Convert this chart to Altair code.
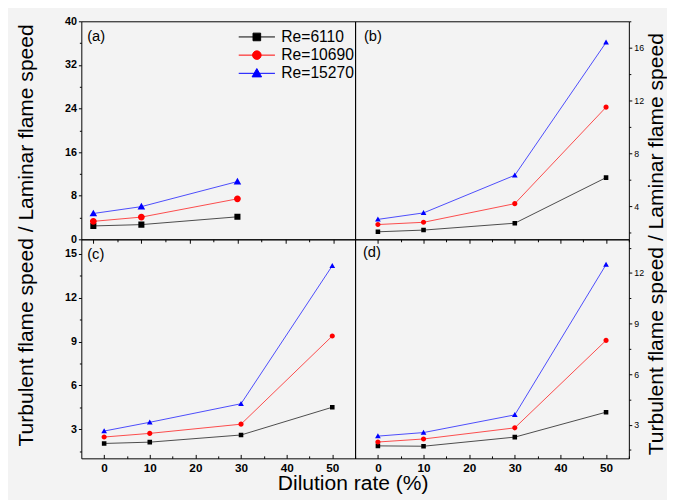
import altair as alt
import pandas as pd

FONT = "Liberation Sans"
SERIES = ["Re=6110", "Re=10690", "Re=15270"]
COLORS = ["#000000", "#ff0000", "#0000ff"]
# marker paths (a zero-area horizontal segment is only visible in the legend)
SHAPES = [
    "M-3.8,0H3.8M-0.8,-0.8H0.8V0.8H-0.8Z",
    "M-3.8,0H3.8M-0.9,0A0.9,0.9 0 1,0 0.9,0A0.9,0.9 0 1,0 -0.9,0Z",
    "M-3.8,0H3.8M0,-1L1,0.75L-1,0.75Z",
]

# ---- data ----
x_a = [0, 10, 30]
a_6110 = [2.46, 2.7, 4.13]
a_10690 = [3.3, 4.08, 7.43]
a_15270 = [4.74, 6.0, 10.6]

x_bcd = [0, 10, 30, 50]
b_6110 = [2.07, 2.2, 2.72, 6.17]
b_10690 = [2.62, 2.79, 4.2, 11.5]
b_15270 = [3.01, 3.5, 6.35, 16.4]

c_6110 = [2.02, 2.11, 2.6, 4.5]
c_10690 = [2.46, 2.71, 3.34, 9.38]
c_15270 = [2.87, 3.47, 4.74, 14.19]

d_6110 = [1.74, 1.72, 2.26, 3.74]
d_10690 = [1.97, 2.15, 2.81, 8.0]
d_15270 = [2.32, 2.53, 3.58, 12.5]

x_ticks_a = [0, 5, 10, 15, 20, 25, 30, 35, 40, 45, 50]
x_ticks = [0, 5, 10, 15, 20, 25, 30, 35, 40, 45, 50, 55]
x_labels = [0, 10, 20, 30, 40, 50]
y_ticks_a = [0, 4, 8, 12, 16, 20, 24, 28, 32, 36, 40]
y_ticks_b = [2, 4, 6, 8, 10, 12, 14, 16, 18]
y_ticks_c = [1.5, 3, 4.5, 6, 7.5, 9, 10.5, 12, 13.5, 15]
y_ticks_d = [1.5, 3, 4.5, 6, 7.5, 9, 10.5, 12, 13.5]

Y_TITLE = "Turbulent flame speed / Laminar flame speed"
X_TITLE = "Dilution rate (%)"


def long_df(xs, ys_list):
    rows = []
    for name, ys in zip(SERIES, ys_list):
        for x, y in zip(xs, ys):
            rows.append({"x": x, "y": y, "series": name})
    return pd.DataFrame(rows)


def tick_size(test, major, minor):
    return {"condition": {"test": test, "value": major}, "value": minor}


stroke_scale = alt.Scale(domain=SERIES, range=COLORS)
fill_scale = alt.Scale(domain=SERIES, range=COLORS)
shape_scale = alt.Scale(domain=SERIES, range=SHAPES)

legend = alt.Legend(
    title=None, orient="none", legendX=171.5, legendY=8,
    labelFont=FONT, labelFontSize=16, labelColor="black",
    symbolSize=95, symbolStrokeWidth=1, symbolOpacity=1,
    labelOffset=17, rowPadding=2.6, padding=0,
)


def panel(df, xdom, ydom, yvals, ytest, ymaj, yorient, bottom, label, lpos,
          msize, height, y_title=None, x_title=None):
    xs = alt.Scale(domain=xdom, nice=False, zero=False)
    ys = alt.Scale(domain=ydom, nice=False, zero=False)

    if yorient == "left":
        yaxis_kw = dict(labelFontWeight="bold", labelFontSize=11, labelPadding=2)
    else:
        yaxis_kw = dict(labelFontWeight="normal", labelFontSize=9, labelPadding=2)
    ykw = dict(
        orient=yorient, values=yvals, domain=False, grid=False,
        labelExpr=f"datum.value % {ymaj} === 0 ? datum.label : ''",
        tickSize=tick_size(ytest, 3, 2), tickColor="black", labelColor="black",
        labelFont=FONT, **yaxis_kw,
    )
    if y_title:
        ykw.update(
            title=y_title, titleFont=FONT, titleFontSize=21.5, titleFontWeight="normal",
            titleColor="black", titleAngle=270, titleAlign="center",
            titleBaseline="alphabetic",
            titleX=-50 if yorient == "left" else 34,
            titleY=-4.5 if yorient == "left" else 4.5,
        )
    else:
        ykw.update(title=None)
    yaxis = alt.Axis(**ykw)

    if bottom:
        xkw = dict(
            orient="bottom", values=x_labels, domain=False, grid=False, ticks=False,
            tickSize=0, labelPadding=4, labelFont=FONT, labelFontSize=12,
            labelFontWeight="bold", labelColor="black",
        )
        if x_title:
            xkw.update(title=x_title, titleFont=FONT, titleFontSize=21.5,
                       titleFontWeight="normal", titleColor="black",
                       titleX=277.5, titleY=32, titleAlign="center",
                       titleBaseline="alphabetic")
        else:
            xkw.update(title=None)
        xaxis_line = alt.Axis(**xkw)
        xaxis_pts = alt.Axis(
            orient="top", offset=-height, values=x_ticks, labels=False,
            domain=False, grid=False, title=None, tickColor="black",
            tickSize=tick_size("datum.value % 10 === 0", 4, 2.5),
        )
    else:
        xaxis_line = alt.Axis(
            orient="bottom", values=x_ticks_a if xdom[0] > -3 else x_ticks,
            labels=False, domain=False, grid=False, title=None, tickColor="black",
            tickSize=tick_size("datum.value % 10 === 0", 4, 2.5),
        )
        xaxis_pts = xaxis_line

    base = alt.Chart(df)
    lines = base.mark_line(strokeWidth=0.7).encode(
        x=alt.X("x:Q", scale=xs, axis=xaxis_line),
        y=alt.Y("y:Q", scale=ys, axis=yaxis),
        stroke=alt.Stroke("series:N", scale=stroke_scale, legend=legend),
        order="x:Q",
    )
    points = base.mark_point(filled=True, size=msize, strokeWidth=0, opacity=1).encode(
        x=alt.X("x:Q", scale=xs, axis=xaxis_pts),
        y=alt.Y("y:Q", scale=ys, axis=yaxis),
        fill=alt.Fill("series:N", scale=fill_scale, legend=legend),
        stroke=alt.Stroke("series:N", scale=stroke_scale, legend=legend),
        shape=alt.Shape("series:N", scale=shape_scale, legend=legend),
    )
    text = alt.Chart(pd.DataFrame({"t": [label]})).mark_text(
        align="left", baseline="middle", font=FONT, fontSize=15, color="black"
    ).encode(text="t:N", x=alt.value(lpos[0]), y=alt.value(lpos[1]))

    layer = alt.layer(lines, points, text).properties(width=280, height=height)
    if bottom:
        layer = layer.resolve_axis(x="independent")
    return layer


pa = panel(long_df(x_a, [a_6110, a_10690, a_15270]), [-2.5, 54.5], [0, 40],
           y_ticks_a, "datum.value % 8 === 0", 8, "left", False, "(a)", (6, 15),
           60, 223)
pb = panel(long_df(x_bcd, [b_6110, b_10690, b_15270]), [-5, 55], [1.5, 18],
           y_ticks_b, "datum.value % 4 === 0", 4, "right", False, "(b)", (9, 15),
           34, 223)
pc = panel(long_df(x_bcd, [c_6110, c_10690, c_15270]), [-5, 55], [1, 16],
           y_ticks_c, "datum.value % 3 === 0", 3, "left", True, "(c)", (6, 15),
           34, 224, y_title=Y_TITLE, x_title=X_TITLE)
pd_ = panel(long_df(x_bcd, [d_6110, d_10690, d_15270]), [-5, 55], [1, 14],
            y_ticks_d, "datum.value % 3 === 0", 3, "right", True, "(d)", (8, 12.7),
            34, 224, y_title=Y_TITLE)

chart = alt.concat(pa, pb, pc, pd_, columns=2, spacing=0, bounds="flush").properties(
    padding={"left": 7, "top": 1, "right": 0, "bottom": 0},
    background="#f3f3f3",
).configure_view(stroke="black", strokeWidth=1)

chart.save("out.html", embed_options={"renderer": "svg", "actions": False})
